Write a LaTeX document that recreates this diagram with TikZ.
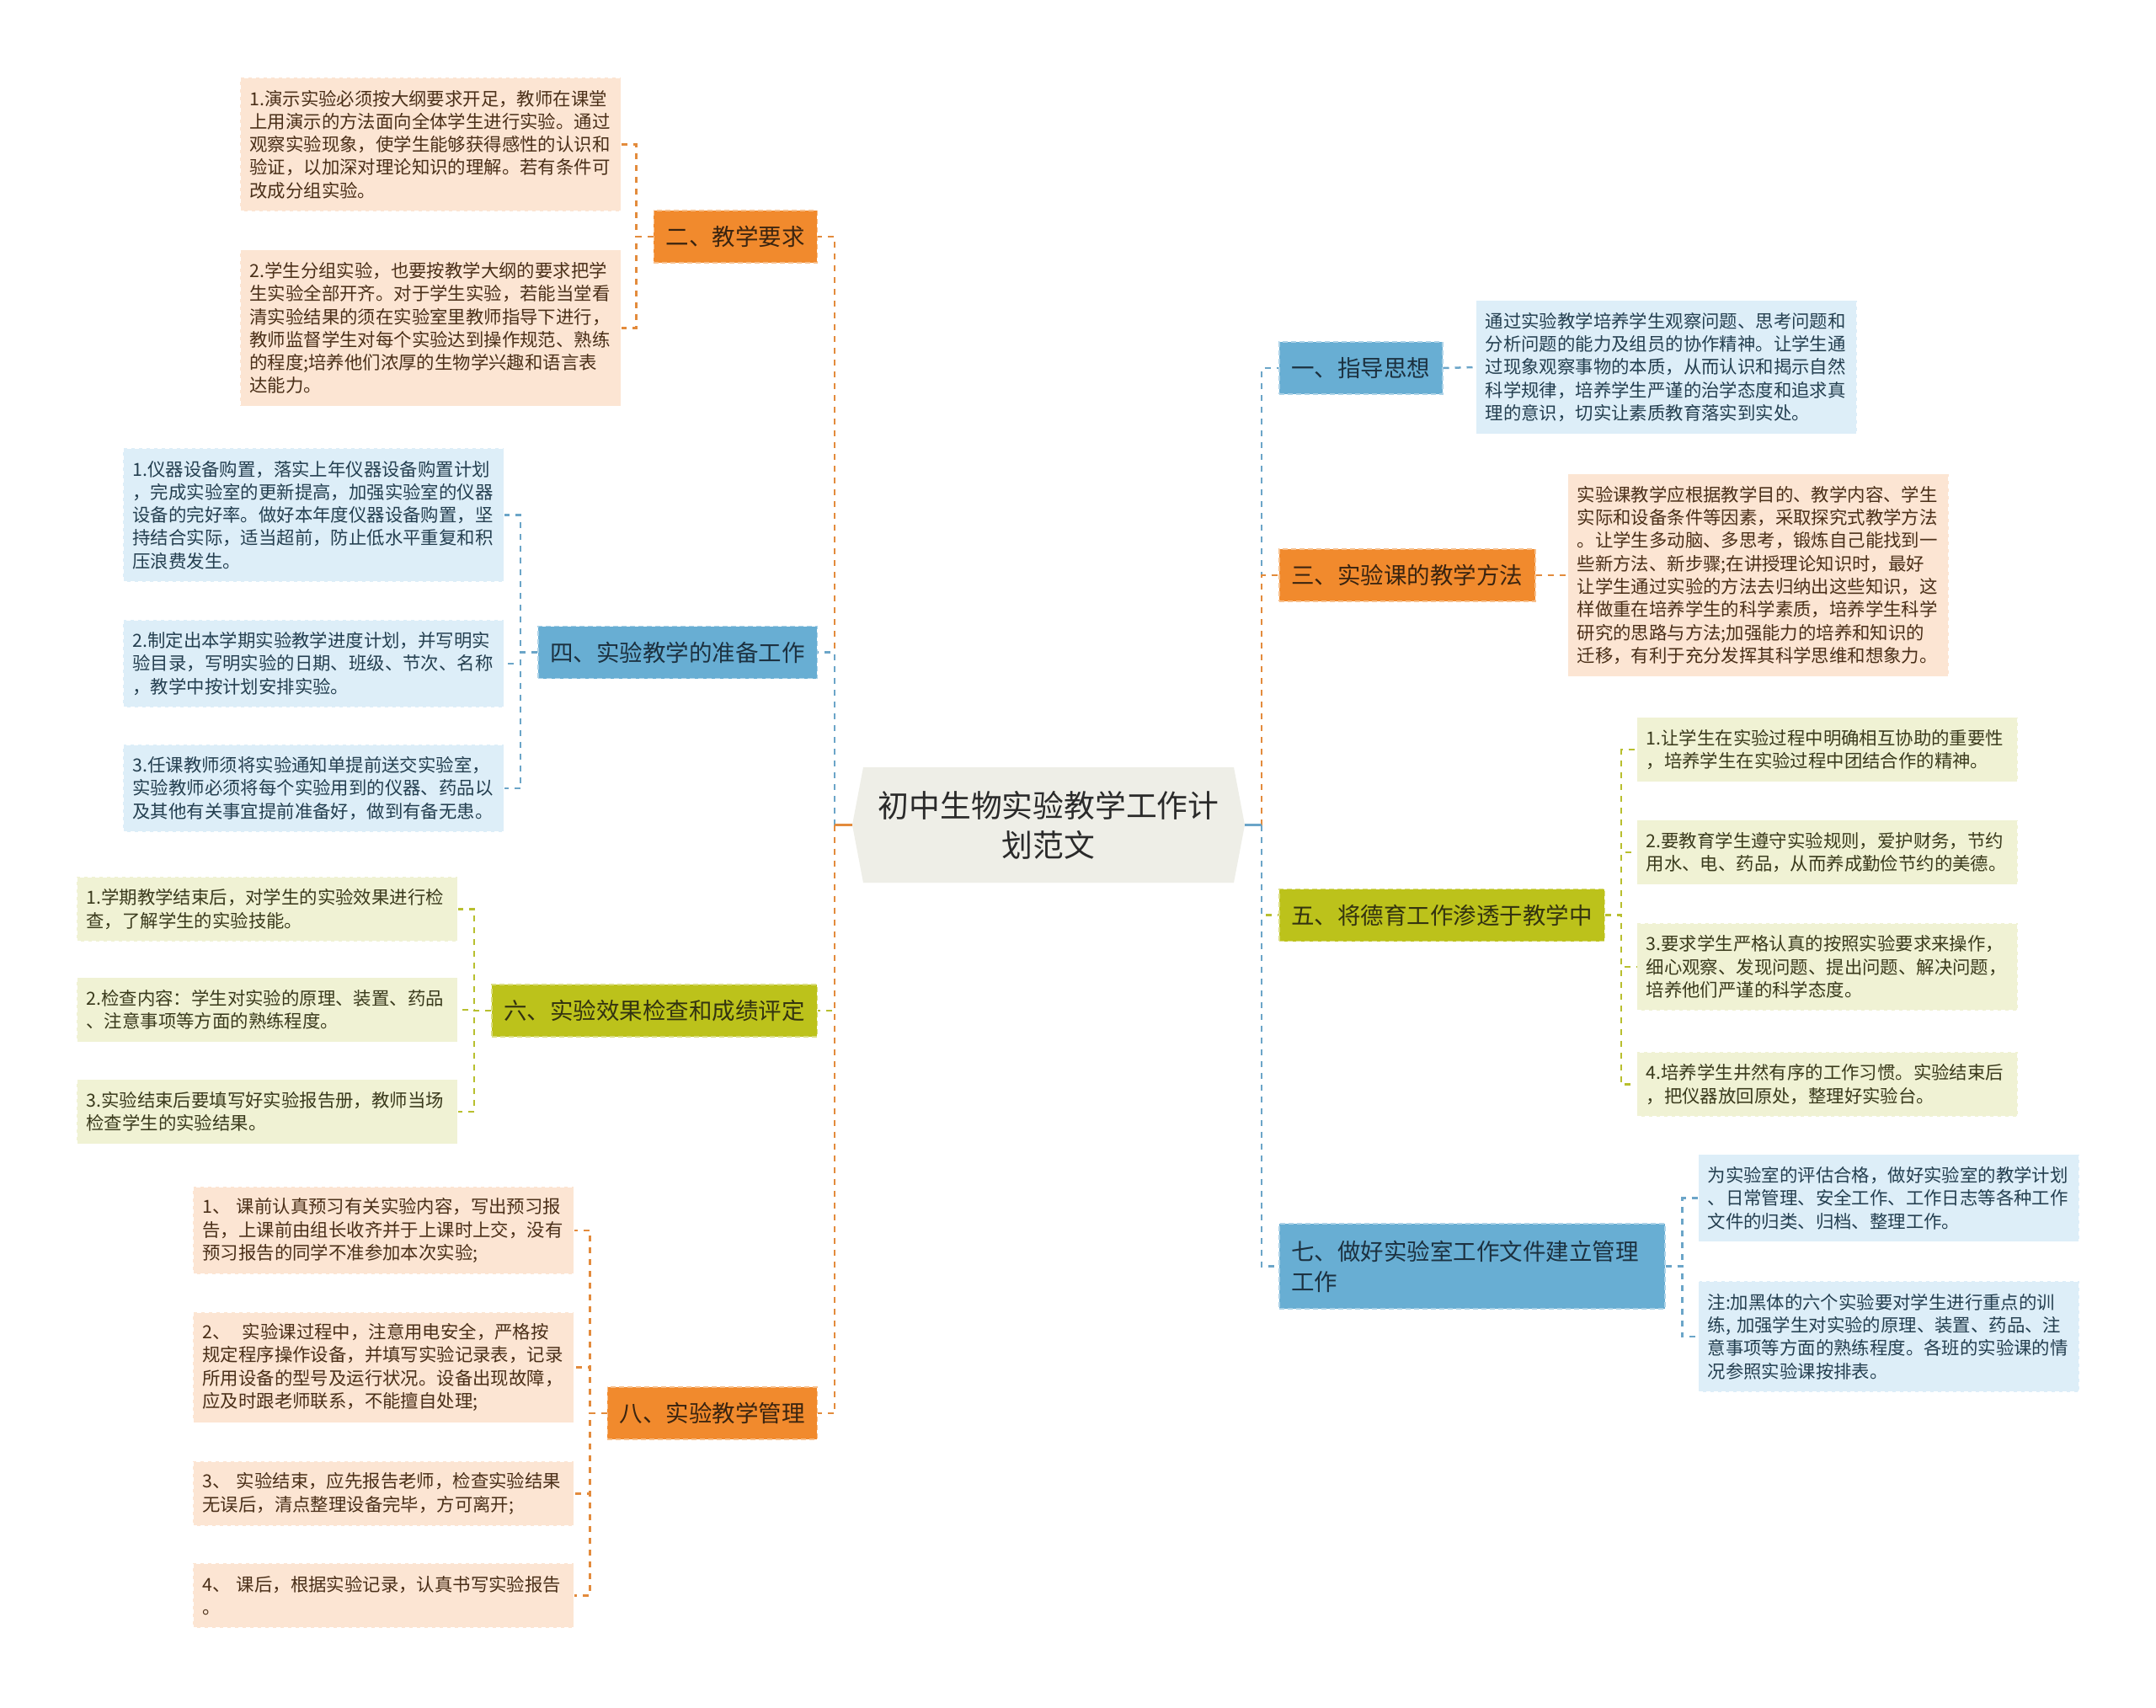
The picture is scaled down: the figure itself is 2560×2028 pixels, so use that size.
\documentclass[tikz,border=0pt]{standalone}
\usepackage{fontspec}
\setmainfont{Noto Sans CJK SC}
\definecolor{brOfill}{HTML}{F18A2D}
\definecolor{brBfill}{HTML}{68AED3}
\definecolor{brGfill}{HTML}{BCC21B}
\definecolor{lfOfill}{HTML}{FCE5D3}
\definecolor{lfBfill}{HTML}{DDEEF8}
\definecolor{lfGfill}{HTML}{F0F2D4}
\definecolor{txO}{HTML}{4A2F18}
\definecolor{txB}{HTML}{243F50}
\definecolor{txG}{HTML}{3A3A1C}
\definecolor{brtxO}{HTML}{3A2410}
\definecolor{brtxB}{HTML}{1C3140}
\definecolor{brtxG}{HTML}{333310}
\definecolor{cnOcol}{HTML}{E38B3C}
\definecolor{cnBcol}{HTML}{6BA5C8}
\definecolor{cnGcol}{HTML}{B8BF2E}
\definecolor{centerfill}{HTML}{EEEEE7}
\definecolor{centertext}{HTML}{2A2A2A}
\begin{document}
\begin{tikzpicture}[x=1pt,y=-1pt,
  leafbase/.style={rectangle, text width=430pt, align=left, inner xsep=11pt, inner ysep=0pt,
    font=\fontsize{21.4}{27.3}\selectfont, draw=white, dash pattern=on 5pt off 4pt, line width=1.2pt},
  nl/.style={minimum height={#1*27.3pt+22pt}},
  leafO/.style={leafbase, fill=lfOfill, text=txO},
  leafB/.style={leafbase, fill=lfBfill, text=txB},
  leafG/.style={leafbase, fill=lfGfill, text=txG},
  brbase/.style={rectangle, inner xsep=14.5pt, inner ysep=0pt, minimum height=62pt,
    font=\fontsize{27.5}{36}\selectfont, dash pattern=on 6pt off 4pt, line width=1.5pt},
  brO/.style={brbase, fill=brOfill, draw=brOfill!55!white, text=brtxO},
  brB/.style={brbase, fill=brBfill, draw=brBfill!55!white, text=brtxB},
  brG/.style={brbase, fill=brGfill, draw=brGfill!55!white, text=brtxG},
  cnbase/.style={line width=2.5pt, dash pattern=on 7pt off 7pt},
  cnO/.style={cnbase, draw=cnOcol},
  cnB/.style={cnbase, draw=cnBcol},
  cnG/.style={cnbase, draw=cnGcol},
  stub/.style={line width=2.5pt, solid}
]
\fill[white] (0,0) rectangle (2560,2028);
\useasboundingbox (0,0) rectangle (2560,2028);

% ---------- center ----------
\fill[centerfill] (1012,979.5) -- (1025,911) -- (1465,911) -- (1478,979.5) -- (1465,1048) -- (1025,1048) -- cycle;
\node[font=\fontsize{36.8}{47}\selectfont, align=center, text=centertext, minimum width=466pt,
  minimum height=137pt, inner sep=0pt] (c) at (1245,979.5) {初中生物实验教学工作计\\划范文};
\coordinate (trL) at (991,979.5);
\coordinate (trR) at (1498,979.5);

% ---------- right branches ----------
\node[brB, anchor=west] (b1) at (1518,437) {一、指导思想};
\node[leafB, nl=5, anchor=west] (l1) at (1752,436) {通过实验教学培养学生观察问题、思考问题和\\%
分析问题的能力及组员的协作精神。让学生通\\%
过现象观察事物的本质，从而认识和揭示自然\\%
科学规律，培养学生严谨的治学态度和追求真\\%
理的意识，切实让素质教育落实到实处。};

\node[brO, anchor=west] (b3) at (1518,683) {三、实验课的教学方法};
\node[leafO, nl=8, anchor=west] (l3) at (1861,683) {实验课教学应根据教学目的、教学内容、学生\\%
实际和设备条件等因素，采取探究式教学方法\\%
。让学生多动脑、多思考，锻炼自己能找到一\\%
些新方法、新步骤;在讲授理论知识时，最好\\%
让学生通过实验的方法去归纳出这些知识，这\\%
样做重在培养学生的科学素质，培养学生科学\\%
研究的思路与方法;加强能力的培养和知识的\\%
迁移，有利于充分发挥其科学思维和想象力。};

\node[brG, anchor=west] (b5) at (1518,1086.5) {五、将德育工作渗透于教学中};
\node[leafG, nl=2, anchor=west] (l5a) at (1943,890) {1.让学生在实验过程中明确相互协助的重要性\\%
，培养学生在实验过程中团结合作的精神。};
\node[leafG, nl=2, anchor=west] (l5b) at (1943,1012) {2.要教育学生遵守实验规则，爱护财务，节约\\%
用水、电、药品，从而养成勤俭节约的美德。};
\node[leafG, nl=3, anchor=west] (l5c) at (1943,1148) {3.要求学生严格认真的按照实验要求来操作，\\%
细心观察、发现问题、提出问题、解决问题，\\%
培养他们严谨的科学态度。};
\node[leafG, nl=2, anchor=west] (l5d) at (1943,1287.5) {4.培养学生井然有序的工作习惯。实验结束后\\%
，把仪器放回原处，整理好实验台。};

\node[brB, anchor=west, text width=429pt, align=left, minimum height=101pt] (b7) at (1518,1503.5) {七、做好实验室工作文件建立管理\\工作};
\node[leafB, nl=3, anchor=west] (l7a) at (2016,1422.5) {为实验室的评估合格，做好实验室的教学计划\\%
、日常管理、安全工作、工作日志等各种工作\\%
文件的归类、归档、整理工作。};
\node[leafB, nl=4, anchor=west] (l7b) at (2016,1587) {注:加黑体的六个实验要对学生进行重点的训\\%
练, 加强学生对实验的原理、装置、药品、注\\%
意事项等方面的熟练程度。各班的实验课的情\\%
况参照实验课按排表。};

% ---------- left branches ----------
\node[brO, anchor=east] (b2) at (971,281) {二、教学要求};
\node[leafO, nl=5, anchor=east] (l2a) at (738,171.5) {1.演示实验必须按大纲要求开足，教师在课堂\\%
上用演示的方法面向全体学生进行实验。通过\\%
观察实验现象，使学生能够获得感性的认识和\\%
验证，以加深对理论知识的理解。若有条件可\\%
改成分组实验。};
\node[leafO, nl=6, anchor=east] (l2b) at (738,389.5) {2.学生分组实验，也要按教学大纲的要求把学\\%
生实验全部开齐。对于学生实验，若能当堂看\\%
清实验结果的须在实验室里教师指导下进行，\\%
教师监督学生对每个实验达到操作规范、熟练\\%
的程度;培养他们浓厚的生物学兴趣和语言表\\%
达能力。};

\node[brB, anchor=east] (b4) at (971,774.5) {四、实验教学的准备工作};
\node[leafB, nl=5, anchor=east] (l4a) at (599,611.5) {1.仪器设备购置，落实上年仪器设备购置计划\\%
，完成实验室的更新提高，加强实验室的仪器\\%
设备的完好率。做好本年度仪器设备购置，坚\\%
持结合实际，适当超前，防止低水平重复和积\\%
压浪费发生。};
\node[leafB, nl=3, anchor=east] (l4b) at (599,788) {2.制定出本学期实验教学进度计划，并写明实\\%
验目录，写明实验的日期、班级、节次、名称\\%
，教学中按计划安排实验。};
\node[leafB, nl=3, anchor=east] (l4c) at (599,936) {3.任课教师须将实验通知单提前送交实验室，\\%
实验教师必须将每个实验用到的仪器、药品以\\%
及其他有关事宜提前准备好，做到有备无患。};

\node[brG, anchor=east] (b6) at (971,1200) {六、实验效果检查和成绩评定};
\node[leafG, nl=2, anchor=east] (l6a) at (544,1079.5) {1.学期教学结束后，对学生的实验效果进行检\\%
查，了解学生的实验技能。};
\node[leafG, nl=2, anchor=east] (l6b) at (544,1199) {2.检查内容：学生对实验的原理、装置、药品\\%
、注意事项等方面的熟练程度。};
\node[leafG, nl=2, anchor=east] (l6c) at (544,1320) {3.实验结束后要填写好实验报告册，教师当场\\%
检查学生的实验结果。};

\node[brO, anchor=east] (b8) at (971,1678) {八、实验教学管理};
\node[leafO, nl=3, anchor=east] (l8a) at (682,1461) {1、 课前认真预习有关实验内容，写出预习报\\%
告，上课前由组长收齐并于上课时上交，没有\\%
预习报告的同学不准参加本次实验;};
\node[leafO, nl=4, anchor=east] (l8b) at (682,1623.5) {2、\ \ 实验课过程中，注意用电安全，严格按\\%
规定程序操作设备，并填写实验记录表，记录\\%
所用设备的型号及运行状况。设备出现故障，\\%
应及时跟老师联系，不能擅自处理;};
\node[leafO, nl=2, anchor=east] (l8c) at (682,1773.5) {3、 实验结束，应先报告老师，检查实验结果\\%
无误后，清点整理设备完毕，方可离开;};
\node[leafO, nl=2, anchor=east] (l8d) at (682,1894.5) {4、 课后，根据实验记录，认真书写实验报告\\%
。};

% ---------- trunk connectors ----------
\draw[cnO] (trL) |- (b2.east);
\draw[cnB] (trL) |- (b4.east);
\draw[cnG] (trL) |- (b6.east);
\draw[cnO] (trL) |- (b8.east);
\draw[stub, draw=cnOcol] (c.west) -- (trL);

\draw[cnB] (trR) |- (b1.west);
\draw[cnO] (trR) |- (b3.west);
\draw[cnG] (trR) |- (b5.west);
\draw[cnB] (trR) |- (b7.west);
\draw[stub, draw=cnBcol] (c.east) -- (trR);

% ---------- leaf connectors ----------
\draw[cnO] (b2.west) -- ++(-20,0) |- (l2a.east);
\draw[cnO] (b2.west) -- ++(-20,0) |- (l2b.east);

\draw[cnB] (b4.west) -- ++(-20,0) |- (l4a.east);
\draw[cnB] (b4.west) -- ++(-20,0) |- (l4b.east);
\draw[cnB] (b4.west) -- ++(-20,0) |- (l4c.east);

\draw[cnG] (b6.west) -- ++(-20,0) |- (l6a.east);
\draw[cnG] (b6.west) -- ++(-20,0) |- (l6b.east);
\draw[cnG] (b6.west) -- ++(-20,0) |- (l6c.east);

\draw[cnO] (b8.west) -- ++(-20,0) |- (l8a.east);
\draw[cnO] (b8.west) -- ++(-20,0) |- (l8b.east);
\draw[cnO] (b8.west) -- ++(-20,0) |- (l8c.east);
\draw[cnO] (b8.west) -- ++(-20,0) |- (l8d.east);

\draw[cnB] (b1.east) -- (l1.west);
\draw[cnO] (b3.east) -- (l3.west);

\draw[cnG] (b5.east) -- ++(19,0) |- (l5a.west);
\draw[cnG] (b5.east) -- ++(19,0) |- (l5b.west);
\draw[cnG] (b5.east) -- ++(19,0) |- (l5c.west);
\draw[cnG] (b5.east) -- ++(19,0) |- (l5d.west);

\draw[cnB] (b7.east) -- ++(20,0) |- (l7a.west);
\draw[cnB] (b7.east) -- ++(20,0) |- (l7b.west);
\end{tikzpicture}
\end{document}
